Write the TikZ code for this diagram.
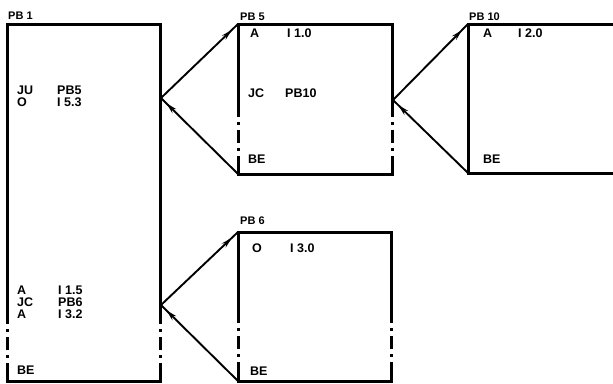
\documentclass[tikz,border=0pt]{standalone}
\usepackage{fontspec}
\setmainfont{Liberation Sans}
\usetikzlibrary{arrows.meta,decorations.markings}
\begin{document}
\begin{tikzpicture}[x=1pt,y=-1pt,
 boxedge/.style={line width=3pt, line cap=rect},
 boxside/.style={line width=3pt, dash pattern=on #1 off 5pt on 3pt off 5pt on 13pt off 5pt on 3pt off 5pt on 40pt},
 solidside/.style={line width=3pt},
 link/.style={line width=1.9pt, postaction={decorate}, decoration={markings, mark=at position #1 with {\arrow{Stealth[length=11pt,width=5.5pt]}}}},
 txt/.style={anchor=base west, inner sep=0pt, text height=9pt, text depth=0pt, font=\bfseries\fontsize{12.5}{13}\selectfont},
 lbl/.style={anchor=base west, inner sep=0pt, text height=8pt, text depth=0pt, font=\bfseries\fontsize{11}{12}\selectfont},
 blk/.style={draw=none, inner sep=0pt, outer sep=0pt, anchor=north west}]
\useasboundingbox[fill=white] (0,0) rectangle (613,383);

% blocks
\node[blk, minimum width=153pt, minimum height=357pt] (pb1) at (7,24) {};
\node[blk, minimum width=154pt, minimum height=150pt] (pb5) at (238,24) {};
\node[blk, minimum width=150pt, minimum height=149pt] (pb10) at (468,24) {};
\node[blk, minimum width=153pt, minimum height=149pt] (pb6) at (238,232) {};

% PB1 outline
\draw[boxedge] (pb1.north west) -- (pb1.north east);
\draw[boxedge] (pb1.south west) -- (pb1.south east);
\draw[boxside=300pt] (pb1.north west) -- (pb1.south west);
\draw[boxside=300pt] (pb1.north east) -- (pb1.south east);
% PB5 outline
\draw[boxedge] (pb5.north west) -- (pb5.north east);
\draw[boxedge] (pb5.south west) -- (pb5.south east);
\draw[boxside=93pt] (pb5.north west) -- (pb5.south west);
\draw[boxside=93pt] (pb5.north east) -- (pb5.south east);
% PB10 outline (open to the right)
\draw[boxedge] (pb10.north west) -- (pb10.north east);
\draw[boxedge] (pb10.south west) -- (pb10.south east);
\draw[solidside] (pb10.north west) -- (pb10.south west);
% PB6 outline
\draw[boxedge] (pb6.north west) -- (pb6.north east);
\draw[boxedge] (pb6.south west) -- (pb6.south east);
\draw[boxside=91pt] (pb6.north west) -- (pb6.south west);
\draw[boxside=91pt] (pb6.north east) -- (pb6.south east);

% connectors
\coordinate (j1) at (161,98);
\coordinate (j2) at (161,305);
\coordinate (j3) at (393,100);
\draw[link=0.92] (j1) -- (pb5.north west);
\draw[link=0.93] (pb5.south west) -- (j1);
\draw[link=0.92] (j2) -- (pb6.north west);
\draw[link=0.93] (pb6.south west) -- (j2);
\draw[link=0.92] (j3) -- (pb10.north west);
\draw[link=0.93] (pb10.south west) -- (j3);

% PB1 texts
\node[lbl] (l1) at (8,19) {PB 1};
\node[txt] (a1) at (17,94.5) {JU};
\node[txt] (b1) at (57,94.5) {PB5};
\node[txt] (a2) at (17,106) {O};
\node[txt] (b2) at (57,106) {I 5.3};
\node[txt] (a3) at (17,294) {A};
\node[txt] (b3) at (58,294) {I 1.5};
\node[txt] (a4) at (17,306) {JC};
\node[txt] (b4) at (58,306) {PB6};
\node[txt] (a5) at (17,318) {A};
\node[txt] (b5) at (58,318) {I 3.2};
\node[txt] (a6) at (17,374) {BE};
% PB5 texts
\node[lbl] (l2) at (240,20) {PB 5};
\node[txt] (c1) at (250,37) {A};
\node[txt] (d1) at (287,37) {I 1.0};
\node[txt] (c2) at (248,97) {JC};
\node[txt] (d2) at (285,97) {PB10};
\node[txt] (c3) at (248,163) {BE};
% PB10 texts
\node[lbl] (l3) at (469,20) {PB 10};
\node[txt] (e1) at (483,37) {A};
\node[txt] (f1) at (518,37) {I 2.0};
\node[txt] (e2) at (483,163) {BE};
% PB6 texts
\node[lbl] (l4) at (240,224) {PB 6};
\node[txt] (g1) at (252,252) {O};
\node[txt] (h1) at (290,252) {I 3.0};
\node[txt] (g2) at (250,375) {BE};
\end{tikzpicture}
\end{document}
